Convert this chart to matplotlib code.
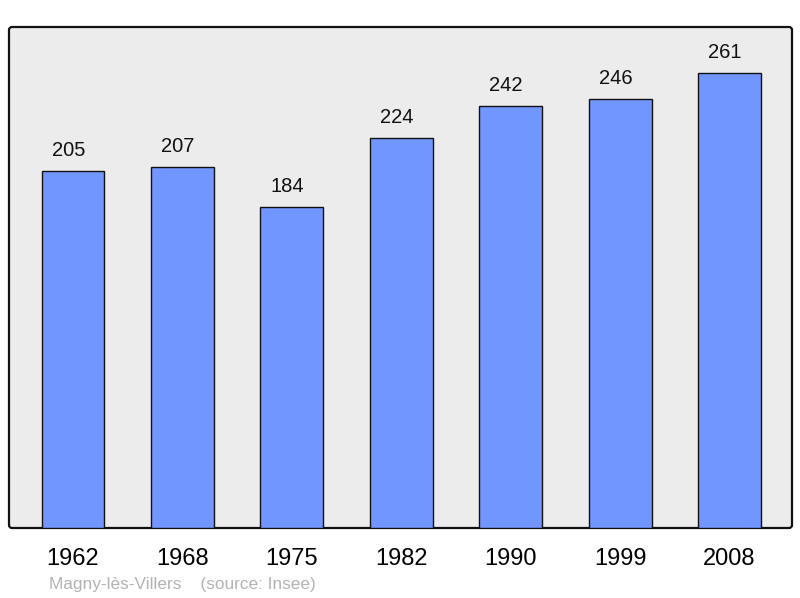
import matplotlib
matplotlib.use("Agg")
import matplotlib.pyplot as plt
from matplotlib.patches import FancyBboxPatch

# data
years = ['1962', '1968', '1975', '1982', '1990', '1999', '2008']
population = [205, 207, 184, 224, 242, 246, 261]

plt.rcParams['font.family'] = ['Liberation Sans', 'DejaVu Sans']

W, H = 800, 598
fig = plt.figure(figsize=(W / 100, H / 100), dpi=100)
ax = fig.add_axes([9 / W, (H - 528) / H, 783 / W, 501 / H])

ax.patch.set_visible(False)
for s in ax.spines.values():
    s.set_visible(False)

# cadre arrondi
frame = FancyBboxPatch((9 / 100, (H - 528) / 100), 7.83, 5.01,
                       boxstyle='round,pad=0,rounding_size=0.03',
                       transform=fig.dpi_scale_trans,
                       facecolor='#ececec', edgecolor='#111111',
                       linewidth=1.6, zorder=-1)
fig.patches.append(frame)

x = range(len(years))
ax.bar(x, population, width=0.575, color='#7196ff', edgecolor='#111111',
       linewidth=1.0, zorder=2)

for i, v in enumerate(population):
    ax.annotate(str(v), (i, v), xytext=(-3.3, 8), textcoords='offset points',
                ha='center', va='bottom', fontsize=14.5, color='#111111')

ax.set_xlim(-0.585, 6.571)
ax.set_ylim(0, 287.6)
ax.set_yticks([])
ax.set_xticks(list(x))
ax.set_xticklabels(years, fontsize=17)
ax.tick_params(axis='x', length=0, pad=14.5)

fig.text(49 / W, 1 - 584 / H, 'Magny-lès-Villers    (source: Insee)',
         fontsize=12.4, color='#b3b3b3', ha='left', va='center')

fig.savefig('out.png', dpi=100, facecolor='white')
